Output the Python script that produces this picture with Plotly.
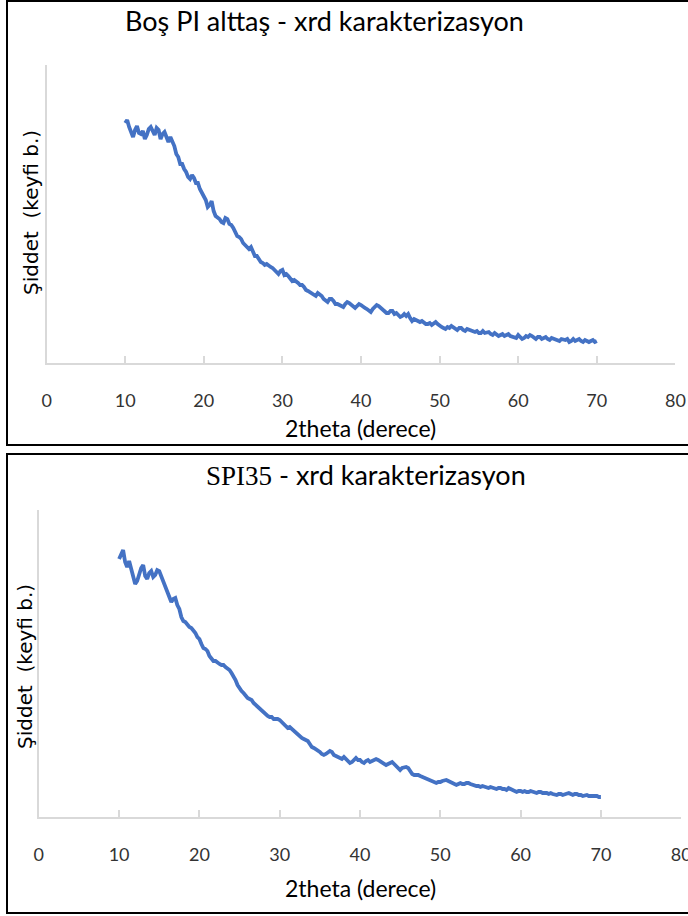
import plotly.graph_objects as go

# ---------------- data ----------------
two_theta = [10.0 + 0.25 * i for i in range(241)]

bos_pi_intensity = [
    240, 243, 236, 230, 226, 233, 237, 230, 229, 232,
    224, 228, 234, 236, 231, 228, 235, 233, 224, 229,
    231, 226, 221, 226, 222, 217, 209, 206, 199, 199,
    194, 191, 186, 184, 188, 185, 180, 180, 174, 170,
    168, 163, 156, 158, 162, 152, 147, 146, 144, 141,
    140, 145, 144, 139, 138, 135, 131, 127, 126, 124,
    120, 118, 117, 114, 116, 112, 107, 107, 104, 101,
    100, 98, 99, 97, 96, 95, 93, 90, 89, 92,
    93, 88, 89, 87, 84, 82, 83, 82, 80, 78,
    78, 76, 73, 72, 71, 70, 69, 67, 70, 69,
    67, 64, 62, 61, 64, 64, 62, 59, 59, 58,
    56, 56, 59, 61, 60, 58, 56, 55, 57, 59,
    58, 56, 55, 54, 52, 51, 54, 56, 58, 57,
    55, 53, 51, 50, 50, 52, 52, 49, 50, 48,
    46, 47, 49, 47, 49, 45, 42, 44, 43, 41,
    41, 42, 40, 39, 39, 40, 38, 39, 41, 39,
    37, 36, 35, 34, 36, 35, 37, 36, 34, 33,
    35, 35, 33, 32, 34, 33, 32, 31, 31, 32,
    30, 30, 32, 30, 31, 31, 29, 28, 30, 29,
    27, 28, 29, 27, 28, 29, 27, 26, 26, 25,
    28, 26, 24, 25, 27, 26, 28, 27, 25, 24,
    26, 26, 24, 25, 26, 24, 23, 25, 24, 23,
    22, 22, 24, 23, 23, 24, 21, 22, 24, 22,
    23, 24, 22, 21, 23, 22, 21, 22, 23, 21,
    22,
]

spi35_intensity = [
    258, 262, 267, 255, 250, 256, 247, 238, 233, 236,
    243, 249, 252, 241, 238, 244, 246, 240, 242, 247,
    246, 241, 236, 231, 226, 221, 215, 218, 219, 212,
    208, 200, 196, 195, 192, 190, 189, 187, 184, 180,
    178, 173, 169, 168, 166, 161, 158, 156, 156, 154,
    153, 152, 152, 150, 149, 147, 144, 141, 137, 132,
    128, 126, 124, 121, 119, 118, 117, 114, 112, 110,
    108, 106, 104, 102, 101, 100, 100, 98, 98, 98,
    97, 95, 93, 91, 89, 90, 88, 86, 85, 82,
    80, 79, 78, 77, 76, 73, 70, 69, 68, 67,
    65, 63, 62, 63, 64, 66, 65, 62, 61, 60,
    59, 58, 60, 58, 56, 54, 55, 57, 59, 57,
    57, 55, 54, 56, 57, 55, 56, 57, 58, 57,
    56, 54, 53, 52, 53, 54, 55, 53, 51, 49,
    47, 49, 50, 50, 49, 46, 43, 42, 42, 42,
    41, 40, 40, 38, 37, 37, 36, 35, 34, 35,
    35, 36, 37, 37, 36, 35, 34, 33, 32, 33,
    34, 33, 33, 34, 34, 33, 32, 32, 31, 31,
    30, 31, 30, 29, 29, 30, 29, 28, 28, 29,
    29, 28, 28, 27, 29, 28, 27, 26, 25, 26,
    26, 25, 26, 25, 25, 26, 25, 24, 24, 25,
    25, 24, 24, 24, 23, 24, 23, 22, 22, 23,
    23, 22, 23, 24, 24, 23, 22, 23, 23, 22,
    22, 21, 22, 22, 21, 21, 21, 21, 21, 20,
    20,
]

x_tick_vals = [0, 10, 20, 30, 40, 50, 60, 70, 80]
x_tick_text = ["0", "10", "20", "30", "40", "50", "60", "70", "80"]

top_title = "Boş PI alttaş - xrd karakterizasyon"
bottom_title_serif = "SPI35"
bottom_title_rest = " - xrd karakterizasyon"
y_title = "Şiddet&nbsp;&nbsp;(keyfi b.)"
x_title = "2theta (derece)"

# ---------------- figure ----------------
W, H = 688, 916
LINE_COLOR = "#4472C4"
AXIS_GRAY = "#d9d9d9"
SANS = "Lato, 'Liberation Sans', sans-serif"


def px_x(p):
    return p / W


def px_y(p):
    return 1 - p / H


fig = go.Figure()
fig.add_trace(go.Scatter(x=two_theta, y=bos_pi_intensity, mode="lines",
                         line=dict(color=LINE_COLOR, width=3.8),
                         xaxis="x", yaxis="y", showlegend=False))
fig.add_trace(go.Scatter(x=two_theta, y=spi35_intensity, mode="lines",
                         line=dict(color=LINE_COLOR, width=3.8),
                         xaxis="x2", yaxis="y2", showlegend=False))

xaxis_common = dict(
    range=[0, 80], tickvals=x_tick_vals, ticktext=x_tick_text,
    showline=True, linecolor=AXIS_GRAY, linewidth=2,
    ticks="inside", ticklen=7, tickcolor=AXIS_GRAY, tickwidth=1.5,
    showgrid=False, zeroline=False, ticklabelstandoff=20,
    ticklabeloverflow="allow",
    tickfont=dict(family=SANS, size=18, color="#333333"),
    fixedrange=True, automargin=False,
)
yaxis_common = dict(
    showline=True, linecolor=AXIS_GRAY, linewidth=2,
    ticks="", showticklabels=False, showgrid=False, zeroline=False,
    fixedrange=True, automargin=False,
)

fig.update_layout(
    width=W, height=H, autosize=False,
    margin=dict(l=0, r=0, t=0, b=0, pad=0),
    paper_bgcolor="white", plot_bgcolor="white",
    xaxis=dict(domain=[px_x(46.6), px_x(675.4)], anchor="y", **xaxis_common),
    yaxis=dict(domain=[px_y(363), px_y(65)], anchor="x", range=[0, 298], **yaxis_common),
    xaxis2=dict(domain=[px_x(38.8), px_x(681.2)], anchor="y2", **xaxis_common),
    yaxis2=dict(domain=[px_y(817), px_y(510)], anchor="x2", range=[0, 307], **yaxis_common),
)

# panel frames
fig.add_shape(type="rect", xref="paper", yref="paper",
              x0=px_x(7), x1=px_x(700), y0=px_y(445), y1=px_y(1),
              line=dict(color="black", width=2), fillcolor="rgba(0,0,0,0)", layer="above")
fig.add_shape(type="rect", xref="paper", yref="paper",
              x0=px_x(7), x1=px_x(700), y0=px_y(913), y1=px_y(454),
              line=dict(color="black", width=2), fillcolor="rgba(0,0,0,0)", layer="above")

ann = []
ann.append(dict(text=top_title, x=px_x(324), y=px_y(20), xref="paper", yref="paper",
                xanchor="center", yanchor="middle", showarrow=False,
                font=dict(family=SANS, size=27, color="black")))
ann.append(dict(text=f"<span style='font-family:Liberation Serif'>{bottom_title_serif}</span>{bottom_title_rest}",
                x=px_x(366), y=px_y(474), xref="paper", yref="paper",
                xanchor="center", yanchor="middle", showarrow=False,
                font=dict(family=SANS, size=27, color="black")))
for (cx, cy) in [(31, 213), (25, 667)]:
    ann.append(dict(text=y_title, x=px_x(cx), y=px_y(cy), xref="paper", yref="paper",
                    xanchor="center", yanchor="middle", showarrow=False, textangle=-90,
                    font=dict(family="DejaVu Sans", size=20, color="black")))
for (cx, cy) in [(360, 428), (360, 888)]:
    ann.append(dict(text=x_title, x=px_x(cx), y=px_y(cy), xref="paper", yref="paper",
                    xanchor="center", yanchor="middle", showarrow=False,
                    font=dict(family=SANS, size=23, color="black")))
fig.update_layout(annotations=ann)

fig.write_html("out.html")
